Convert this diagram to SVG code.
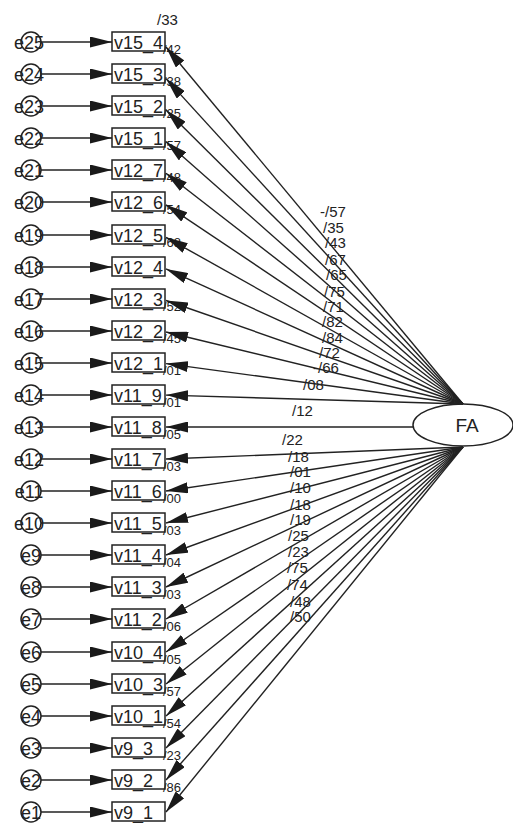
<svg xmlns="http://www.w3.org/2000/svg" width="513" height="823" viewBox="0 0 513 823">
<style>
text{font-family:"Liberation Sans",Arial,sans-serif;fill:#222}
.bx{fill:#fff;stroke:#222;stroke-width:1.5}
.ci{fill:#fff;stroke:#222;stroke-width:1.5}
.bt{font-size:18px}
.et{font-size:18px;text-anchor:middle}
.ld{font-size:15px}
.r2{font-size:13px}
.cn line{stroke:#222;stroke-width:1.4;marker-end:url(#ah)}
</style>
<defs>
<marker id="ah" viewBox="0 0 22 11" refX="22" refY="5.5" markerWidth="22" markerHeight="11" markerUnits="userSpaceOnUse" orient="auto"><path d="M0,0 L22,5.5 L0,11 z" fill="#1a1a1a"/></marker>
</defs>
<rect width="513" height="823" fill="#fff"/>

<g id="FA"><ellipse cx="463" cy="425" rx="50" ry="21" class="bx"/><text x="467" y="432" style="font-size:19px;text-anchor:middle">FA</text></g>

<g id="v15_4"><rect class="bx" x="112" y="32" width="53" height="19"/><text class="bt" x="114" y="48.5">v15_4</text></g>
<g id="v15_3"><rect class="bx" x="112" y="64" width="53" height="19"/><text class="bt" x="114" y="80.5">v15_3</text></g>
<g id="v15_2"><rect class="bx" x="112" y="96" width="53" height="19"/><text class="bt" x="114" y="112.5">v15_2</text></g>
<g id="v15_1"><rect class="bx" x="112" y="128" width="53" height="19"/><text class="bt" x="114" y="144.5">v15_1</text></g>
<g id="v12_7"><rect class="bx" x="112" y="160" width="53" height="19"/><text class="bt" x="114" y="176.5">v12_7</text></g>
<g id="v12_6"><rect class="bx" x="112" y="192" width="53" height="19"/><text class="bt" x="114" y="208.5">v12_6</text></g>
<g id="v12_5"><rect class="bx" x="112" y="225" width="53" height="19"/><text class="bt" x="114" y="241.5">v12_5</text></g>
<g id="v12_4"><rect class="bx" x="112" y="257" width="53" height="19"/><text class="bt" x="114" y="273.5">v12_4</text></g>
<g id="v12_3"><rect class="bx" x="112" y="289" width="53" height="19"/><text class="bt" x="114" y="305.5">v12_3</text></g>
<g id="v12_2"><rect class="bx" x="112" y="321" width="53" height="19"/><text class="bt" x="114" y="337.5">v12_2</text></g>
<g id="v12_1"><rect class="bx" x="112" y="353" width="53" height="19"/><text class="bt" x="114" y="369.5">v12_1</text></g>
<g id="v11_9"><rect class="bx" x="112" y="385" width="53" height="19"/><text class="bt" x="114" y="401.5">v11_9</text></g>
<g id="v11_8"><rect class="bx" x="112" y="417" width="53" height="19"/><text class="bt" x="114" y="433.5">v11_8</text></g>
<g id="v11_7"><rect class="bx" x="112" y="449" width="53" height="19"/><text class="bt" x="114" y="465.5">v11_7</text></g>
<g id="v11_6"><rect class="bx" x="112" y="481" width="53" height="19"/><text class="bt" x="114" y="497.5">v11_6</text></g>
<g id="v11_5"><rect class="bx" x="112" y="513" width="53" height="19"/><text class="bt" x="114" y="529.5">v11_5</text></g>
<g id="v11_4"><rect class="bx" x="112" y="545" width="53" height="19"/><text class="bt" x="114" y="561.5">v11_4</text></g>
<g id="v11_3"><rect class="bx" x="112" y="577" width="53" height="19"/><text class="bt" x="114" y="593.5">v11_3</text></g>
<g id="v11_2"><rect class="bx" x="112" y="609" width="53" height="19"/><text class="bt" x="114" y="625.5">v11_2</text></g>
<g id="v10_4"><rect class="bx" x="112" y="642" width="53" height="19"/><text class="bt" x="114" y="658.5">v10_4</text></g>
<g id="v10_3"><rect class="bx" x="112" y="674" width="53" height="19"/><text class="bt" x="114" y="690.5">v10_3</text></g>
<g id="v10_1"><rect class="bx" x="112" y="706" width="53" height="19"/><text class="bt" x="114" y="722.5">v10_1</text></g>
<g id="v9_3"><rect class="bx" x="112" y="738" width="53" height="19"/><text class="bt" x="114" y="754.5">v9_3</text></g>
<g id="v9_2"><rect class="bx" x="112" y="770" width="53" height="19"/><text class="bt" x="114" y="786.5">v9_2</text></g>
<g id="v9_1"><rect class="bx" x="112" y="802" width="53" height="19"/><text class="bt" x="114" y="818.5">v9_1</text></g>

<g id="e25"><circle class="ci" cx="31" cy="42" r="10"/><text class="et" x="29" y="48.5">e25</text></g>
<g id="e24"><circle class="ci" cx="31" cy="74" r="10"/><text class="et" x="29" y="80.5">e24</text></g>
<g id="e23"><circle class="ci" cx="31" cy="106" r="10"/><text class="et" x="29" y="112.5">e23</text></g>
<g id="e22"><circle class="ci" cx="31" cy="138" r="10"/><text class="et" x="29" y="144.5">e22</text></g>
<g id="e21"><circle class="ci" cx="31" cy="170" r="10"/><text class="et" x="29" y="176.5">e21</text></g>
<g id="e20"><circle class="ci" cx="31" cy="202" r="10"/><text class="et" x="29" y="208.5">e20</text></g>
<g id="e19"><circle class="ci" cx="31" cy="235" r="10"/><text class="et" x="29" y="241.5">e19</text></g>
<g id="e18"><circle class="ci" cx="31" cy="267" r="10"/><text class="et" x="29" y="273.5">e18</text></g>
<g id="e17"><circle class="ci" cx="31" cy="299" r="10"/><text class="et" x="29" y="305.5">e17</text></g>
<g id="e16"><circle class="ci" cx="31" cy="331" r="10"/><text class="et" x="29" y="337.5">e16</text></g>
<g id="e15"><circle class="ci" cx="31" cy="363" r="10"/><text class="et" x="29" y="369.5">e15</text></g>
<g id="e14"><circle class="ci" cx="31" cy="395" r="10"/><text class="et" x="29" y="401.5">e14</text></g>
<g id="e13"><circle class="ci" cx="31" cy="427" r="10"/><text class="et" x="29" y="433.5">e13</text></g>
<g id="e12"><circle class="ci" cx="31" cy="459" r="10"/><text class="et" x="29" y="465.5">e12</text></g>
<g id="e11"><circle class="ci" cx="31" cy="491" r="10"/><text class="et" x="29" y="497.5">e11</text></g>
<g id="e10"><circle class="ci" cx="31" cy="523" r="10"/><text class="et" x="29" y="529.5">e10</text></g>
<g id="e9"><circle class="ci" cx="31" cy="555" r="10"/><text class="et" x="31" y="561.5">e9</text></g>
<g id="e8"><circle class="ci" cx="31" cy="587" r="10"/><text class="et" x="31" y="593.5">e8</text></g>
<g id="e7"><circle class="ci" cx="31" cy="619" r="10"/><text class="et" x="31" y="625.5">e7</text></g>
<g id="e6"><circle class="ci" cx="31" cy="652" r="10"/><text class="et" x="31" y="658.5">e6</text></g>
<g id="e5"><circle class="ci" cx="31" cy="684" r="10"/><text class="et" x="31" y="690.5">e5</text></g>
<g id="e4"><circle class="ci" cx="31" cy="716" r="10"/><text class="et" x="31" y="722.5">e4</text></g>
<g id="e3"><circle class="ci" cx="31" cy="748" r="10"/><text class="et" x="31" y="754.5">e3</text></g>
<g id="e2"><circle class="ci" cx="31" cy="780" r="10"/><text class="et" x="31" y="786.5">e2</text></g>
<g id="e1"><circle class="ci" cx="31" cy="812" r="10"/><text class="et" x="31" y="818.5">e1</text></g>

<g id="r2-labels" class="r2">
<text class="ld" x="157" y="25">/33</text>
<text class="r2" x="163" y="54">/42</text>
<text class="r2" x="163" y="86">/38</text>
<text class="r2" x="163" y="118">/25</text>
<text class="r2" x="163" y="150">/57</text>
<text class="r2" x="163" y="182">/48</text>
<text class="r2" x="163" y="214">/54</text>
<text class="r2" x="163" y="247">/68</text>
<text class="r2" x="163" y="311">/52</text>
<text class="r2" x="163" y="343">/45</text>
<text class="r2" x="163" y="375">/01</text>
<text class="r2" x="163" y="407">/01</text>
<text class="r2" x="163" y="439">/05</text>
<text class="r2" x="163" y="471">/03</text>
<text class="r2" x="163" y="503">/00</text>
<text class="r2" x="163" y="535">/03</text>
<text class="r2" x="163" y="567">/04</text>
<text class="r2" x="163" y="599">/03</text>
<text class="r2" x="163" y="631">/06</text>
<text class="r2" x="163" y="664">/05</text>
<text class="r2" x="163" y="696">/57</text>
<text class="r2" x="163" y="728">/54</text>
<text class="r2" x="163" y="760">/23</text>
<text class="r2" x="163" y="792">/86</text>
</g>

<g id="connectors" class="cn">
<line x1="41" y1="42" x2="112" y2="42"/>
<line x1="41" y1="74" x2="112" y2="74"/>
<line x1="41" y1="106" x2="112" y2="106"/>
<line x1="41" y1="138" x2="112" y2="138"/>
<line x1="41" y1="170" x2="112" y2="170"/>
<line x1="41" y1="202" x2="112" y2="202"/>
<line x1="41" y1="235" x2="112" y2="235"/>
<line x1="41" y1="267" x2="112" y2="267"/>
<line x1="41" y1="299" x2="112" y2="299"/>
<line x1="41" y1="331" x2="112" y2="331"/>
<line x1="41" y1="363" x2="112" y2="363"/>
<line x1="41" y1="395" x2="112" y2="395"/>
<line x1="41" y1="427" x2="112" y2="427"/>
<line x1="41" y1="459" x2="112" y2="459"/>
<line x1="41" y1="491" x2="112" y2="491"/>
<line x1="41" y1="523" x2="112" y2="523"/>
<line x1="41" y1="555" x2="112" y2="555"/>
<line x1="41" y1="587" x2="112" y2="587"/>
<line x1="41" y1="619" x2="112" y2="619"/>
<line x1="41" y1="652" x2="112" y2="652"/>
<line x1="41" y1="684" x2="112" y2="684"/>
<line x1="41" y1="716" x2="112" y2="716"/>
<line x1="41" y1="748" x2="112" y2="748"/>
<line x1="41" y1="780" x2="112" y2="780"/>
<line x1="41" y1="812" x2="112" y2="812"/>

<line x1="463" y1="404" x2="166" y2="47"/>
<line x1="463" y1="404" x2="166" y2="78.6"/>
<line x1="463" y1="404" x2="166" y2="110.1"/>
<line x1="463" y1="404" x2="166" y2="141.7"/>
<line x1="463" y1="404" x2="166" y2="173.2"/>
<line x1="463" y1="404" x2="166" y2="204.8"/>
<line x1="463" y1="404" x2="166" y2="237.3"/>
<line x1="463" y1="404" x2="166" y2="268.9"/>
<line x1="463" y1="404" x2="166" y2="300.5"/>
<line x1="463" y1="404" x2="166" y2="332"/>
<line x1="463" y1="404" x2="166" y2="363.6"/>
<line x1="463" y1="404" x2="166" y2="395.1"/>
<line x1="413" y1="427" x2="166" y2="427"/>
<line x1="463" y1="447" x2="166" y2="459"/>
<line x1="463" y1="447" x2="166" y2="491"/>
<line x1="463" y1="447" x2="166" y2="523"/>
<line x1="463" y1="447" x2="166" y2="555"/>
<line x1="463" y1="447" x2="166" y2="587"/>
<line x1="463" y1="447" x2="166" y2="619"/>
<line x1="463" y1="447" x2="166" y2="652"/>
<line x1="463" y1="447" x2="166" y2="684"/>
<line x1="463" y1="447" x2="166" y2="716"/>
<line x1="463" y1="447" x2="166" y2="748"/>
<line x1="463" y1="447" x2="166" y2="780"/>
<line x1="463" y1="447" x2="166" y2="812"/>
</g>

<g id="loading-labels" class="ld">
<text x="320" y="217">-/57</text>
<text x="323" y="233">/35</text>
<text x="325" y="248">/43</text>
<text x="325" y="265">/67</text>
<text x="326" y="280">/65</text>
<text x="324" y="297">/75</text>
<text x="323" y="312">/71</text>
<text x="322" y="327">/82</text>
<text x="322" y="343">/84</text>
<text x="319" y="358">/72</text>
<text x="313" y="373">-/66</text>
<text x="303" y="390">/08</text>
<text x="292" y="416">/12</text>
<text x="282" y="445">/22</text>
<text x="288" y="462">/18</text>
<text x="290" y="477">/01</text>
<text x="290" y="493">/10</text>
<text x="290" y="510">/18</text>
<text x="290" y="525">/19</text>
<text x="288" y="541">/25</text>
<text x="288" y="557">/23</text>
<text x="287" y="573">/75</text>
<text x="287" y="590">/74</text>
<text x="290" y="607">/48</text>
<text x="290" y="622">/50</text>
</g>
</svg>
